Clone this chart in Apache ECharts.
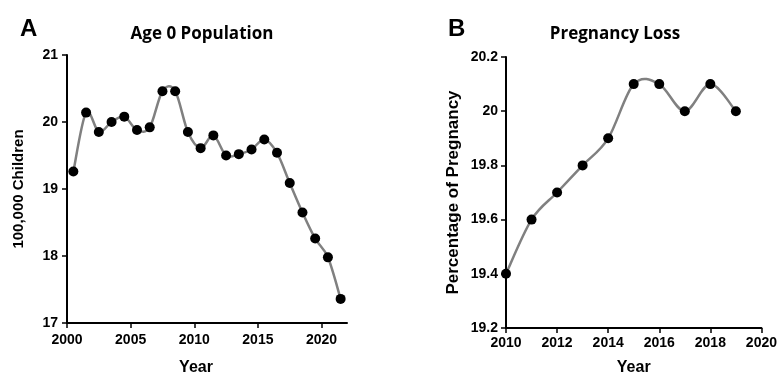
<!DOCTYPE html>
<html lang="en">
<head>
  <meta charset="UTF-8">
  <title>Age 0 Population / Pregnancy Loss</title>
  <script src="https://cdn.jsdelivr.net/npm/echarts@6/dist/echarts.min.js"></script>
  <style>
    html, body { margin: 0; padding: 0; background: #fff; }
  </style>
</head>
<body>
  <div id="main" style="width: 780px; height: 381px;"></div>
  <script>
    // panel A: points sit at mid-year
    var ageYears = [2000.5, 2001.5, 2002.5, 2003.5, 2004.5, 2005.5, 2006.5, 2007.5, 2008.5, 2009.5, 2010.5,
      2011.5, 2012.5, 2013.5, 2014.5, 2015.5, 2016.5, 2017.5, 2018.5, 2019.5, 2020.5, 2021.5]
    var ageValues = [19.26, 20.14, 19.85, 20.0, 20.08, 19.88, 19.92, 20.46, 20.46, 19.85, 19.61,
      19.8, 19.5, 19.52, 19.59, 19.74, 19.54, 19.09, 18.65, 18.26, 17.98, 17.36]
    var ageXTicks = [2000, 2005, 2010, 2015, 2020]

    // panel B
    var lossYears = [2010, 2011, 2012, 2013, 2014, 2015, 2016, 2017, 2018, 2019]
    var lossValues = [19.4, 19.6, 19.7, 19.8, 19.9, 20.1, 20.1, 20.0, 20.1, 20.0]

    var font = 'Liberation Sans, Arial, sans-serif'
    var lineColor = '#808080'

    function pairs(xs, ys) {
      return xs.map(function (x, i) { return [x, ys[i]] })
    }

    // excel-like smoothed line: one bezier per segment, built in pixel space
    function smoothSegments(data) {
      return function (params, api) {
        var i = params.dataIndex
        if (i >= data.length - 1) return null
        var p0 = api.coord(data[Math.max(i - 1, 0)])
        var p1 = api.coord(data[i])
        var p2 = api.coord(data[i + 1])
        var p3 = api.coord(data[Math.min(i + 2, data.length - 1)])
        return {
          type: 'bezierCurve',
          shape: {
            x1: p1[0], y1: p1[1], x2: p2[0], y2: p2[1],
            cpx1: p1[0] + (p2[0] - p0[0]) / 6, cpy1: p1[1] + (p2[1] - p0[1]) / 6,
            cpx2: p2[0] - (p3[0] - p1[0]) / 6, cpy2: p2[1] - (p3[1] - p1[1]) / 6
          },
          style: { fill: null, stroke: lineColor, lineWidth: 2.5 }
        }
      }
    }

    var axisCommon = {
      axisLine: { show: true, onZero: false, lineStyle: { color: '#000', width: 2 } },
      axisTick: { show: true, length: 5, lineStyle: { color: '#000', width: 1.5 } },
      axisLabel: { color: '#000', fontFamily: font, fontWeight: 'bold', fontSize: 14 },
      splitLine: { show: false },
      nameTextStyle: { color: '#000', fontFamily: font, fontWeight: 'bold', fontSize: 15 }
    }
    var plainNum = function (v) { return String(v) }

    var ageData = pairs(ageYears, ageValues)
    var lossData = pairs(lossYears, lossValues)

    var myChart = echarts.init(document.getElementById('main'))
    var option = {
      animation: false,
      backgroundColor: '#fff',
      title: [
        { text: 'A', left: 15, top: 12, textStyle: { fontFamily: font, fontWeight: 'bold', fontSize: 24, color: '#000' } },
        { text: 'B', left: 443, top: 12, textStyle: { fontFamily: font, fontWeight: 'bold', fontSize: 24, color: '#000' } },
        { text: 'Age 0 Population', left: 197, top: 21, textAlign: 'center',
          textStyle: { fontFamily: 'Open Sans, sans-serif', fontWeight: 'bold', fontSize: 17, color: '#000' } },
        { text: 'Pregnancy Loss', left: 610, top: 21, textAlign: 'center',
          textStyle: { fontFamily: 'Open Sans, sans-serif', fontWeight: 'bold', fontSize: 17, color: '#000' } }
      ],
      grid: [
        { left: 67, top: 55, width: 280, height: 275 },
        { left: 506, top: 57, width: 258, height: 278 }
      ],
      xAxis: [
        Object.assign({}, axisCommon, {
          gridIndex: 0, type: 'value', min: 2000, max: 2022, interval: 5,
          name: 'Year', nameLocation: 'middle', nameGap: 37,
          axisTick: Object.assign({}, axisCommon.axisTick, { customValues: ageXTicks }),
          axisLabel: Object.assign({}, axisCommon.axisLabel, { customValues: ageXTicks, margin: 10, formatter: plainNum }),
          nameTextStyle: Object.assign({}, axisCommon.nameTextStyle, { fontSize: 16, padding: [0, 22, 0, 0] })
        }),
        Object.assign({}, axisCommon, {
          gridIndex: 1, type: 'value', min: 2010, max: 2020, interval: 2,
          name: 'Year', nameLocation: 'middle', nameGap: 32,
          axisLabel: Object.assign({}, axisCommon.axisLabel, { margin: 8, formatter: plainNum }),
          nameTextStyle: Object.assign({}, axisCommon.nameTextStyle, { fontSize: 16 })
        })
      ],
      yAxis: [
        Object.assign({}, axisCommon, {
          gridIndex: 0, type: 'value', min: 17, max: 21, interval: 1,
          name: '100,000 Children', nameLocation: 'middle', nameGap: 41,
          axisLabel: Object.assign({}, axisCommon.axisLabel, { margin: 9 })
        }),
        Object.assign({}, axisCommon, {
          gridIndex: 1, type: 'value', min: 19.2, max: 20.2, interval: 0.2,
          name: 'Percentage of Pregnancy', nameLocation: 'middle', nameGap: 44,
          axisLabel: Object.assign({}, axisCommon.axisLabel, { margin: 8 }),
          nameTextStyle: Object.assign({}, axisCommon.nameTextStyle, { fontSize: 17 })
        })
      ],
      series: [
        {
          type: 'custom', xAxisIndex: 0, yAxisIndex: 0,
          data: ageData, renderItem: smoothSegments(ageData), z: 1
        },
        {
          type: 'scatter', xAxisIndex: 0, yAxisIndex: 0,
          data: ageData, symbol: 'circle', symbolSize: 10,
          itemStyle: { color: '#000', opacity: 1 }, z: 2
        },
        {
          type: 'custom', xAxisIndex: 1, yAxisIndex: 1,
          data: lossData, renderItem: smoothSegments(lossData), z: 1
        },
        {
          type: 'scatter', xAxisIndex: 1, yAxisIndex: 1,
          data: lossData, symbol: 'circle', symbolSize: 10,
          itemStyle: { color: '#000', opacity: 1 }, z: 2
        }
      ]
    }
    myChart.setOption(option)
  </script>
</body>
</html>
